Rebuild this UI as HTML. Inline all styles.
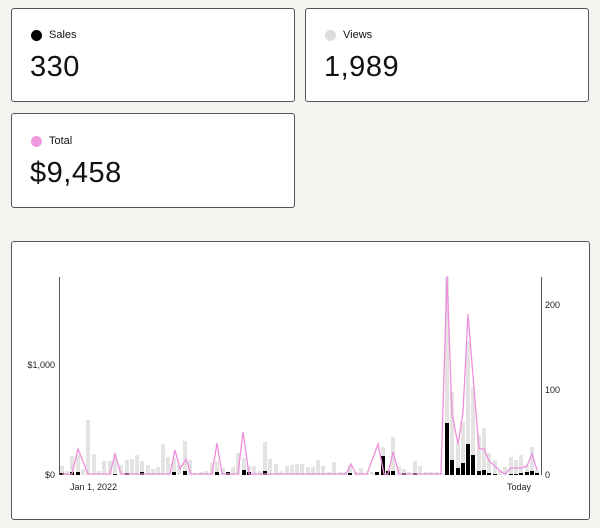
<!DOCTYPE html>
<html><head><meta charset="utf-8"><style>
*{margin:0;padding:0;box-sizing:border-box}
body{width:600px;height:528px;background:#f3f3ef;font-family:"Liberation Sans",sans-serif;position:relative;overflow:hidden}
.card{position:absolute;background:#fff;border:1px solid #555;border-radius:3px}
.lab{position:absolute;left:19px;top:20px;font-size:11px;color:#111;display:flex;align-items:center}
.dot{width:11px;height:11px;border-radius:50%;margin-right:7px}
.num{position:absolute;left:18px;top:42px;font-size:29px;color:#111;letter-spacing:0.5px}
svg{position:absolute;left:0;top:0}
</style></head><body>
<div class="card" style="left:11px;top:8px;width:284px;height:94px"><div class="lab"><span class="dot" style="background:#000"></span>Sales</div><div class="num">330</div></div>
<div class="card" style="left:305px;top:8px;width:284px;height:94px"><div class="lab"><span class="dot" style="background:#ddd"></span>Views</div><div class="num">1,989</div></div>
<div class="card" style="left:11px;top:113px;width:284px;height:95px"><div class="lab" style="top:21px"><span class="dot" style="background:#f29ae0"></span>Total</div><div class="num" style="top:43px">$9,458</div></div>
<div class="card" style="left:11px;top:241px;width:579px;height:279px"></div>
<svg id="c" width="600" height="528" font-family="Liberation Sans, sans-serif" font-size="9" fill="#222"></svg>
<script>
var g=[[62,9],[67,4],[72,19],[78,20],[83,6],[88,55],[94,21],[99,4],[104,14],[110,14],[115,21],[121,10],[127,15],[132,16],[137,20],[142,14],[148,10],[153,6],[158,8],[163,31],[168,18],[174,17],[179,10],[185,34],[190,15],[195,2],[201,3],[206,4],[212,12],[217,14],[223,7],[228,3],[233,8],[238,22],[244,17],[249,9],[254,9],[260,4],[265,33],[270,16],[276,11],[281,4],[287,9],[292,10],[297,11],[302,11],[308,8],[313,8],[318,15],[323,9],[329,3],[334,13],[340,3],[345,3],[350,10],[356,3],[361,7],[367,2],[372,3],[377,3],[383,28],[388,6],[393,38],[399,9],[404,6],[409,3],[415,14],[420,9],[426,3],[431,3],[437,3],[442,2],[447,198],[452,83],[458,32],[463,53],[468,133],[473,88],[479,40],[484,47],[489,22],[495,15],[500,5],[505,8],[511,18],[516,15],[521,20],[527,10],[532,28],[537,5]];
var b={62:2,72:3,78:3,115:1,127:2,142:3,174:3,185:4,217:3,228:3,244:5,249:3,265:4,350:2,377:3,383:19,388:4,393:4,404:2,415:2,447:52,452:15,458:7,463:12,468:31,473:20,479:4,484:5,489:2,495:1,511:1,516:1,521:2,527:3,532:4,537:2};
var s='',B=475;
g.forEach(function(p){s+='<rect x="'+(p[0]-2)+'" y="'+(B-p[1])+'" width="4" height="'+p[1]+'" fill="#e3e3e3"/>';if(b[p[0]])s+='<rect x="'+(p[0]-2)+'" y="'+(B-b[p[0]])+'" width="4" height="'+b[p[0]]+'" fill="#000"/>';});
var pk=[[62,0],[72,0],[78,25],[88,0],[110,0],[115,20],[121,0],[170,0],[175,24],[180,5],[186,15],[191,0],[212,0],[217,31],[222,0],[238,0],[243,42],[249,0],[346,0],[351,10],[356,0],[367,0],[378,30],[384,0],[388,0],[393,22],[399,0],[441,0],[447,198],[452,60],[458,30],[463,62],[468,160],[473,98],[479,25],[484,25],[489,13],[495,8],[500,3],[505,0],[511,6],[516,6],[521,6],[527,8],[532,20],[537,4]];
s+='<polyline fill="none" stroke="#ee8fdc" stroke-width="1.3" points="'+pk.map(function(p){return p[0]+','+(B-1-p[1])}).join(' ')+'"/>';
s+='<line x1="59.5" y1="277" x2="59.5" y2="475" stroke="#555"/><line x1="541.5" y1="277" x2="541.5" y2="475" stroke="#555"/>';
s+='<text x="55" y="368" text-anchor="end">$1,000</text><text x="55" y="478" text-anchor="end">$0</text>';
s+='<text x="545" y="308">200</text><text x="545" y="393">100</text><text x="545" y="478">0</text>';
s+='<text x="70" y="490">Jan 1, 2022</text><text x="507" y="490">Today</text>';
document.getElementById('c').innerHTML=s;
</script>
</body></html>
